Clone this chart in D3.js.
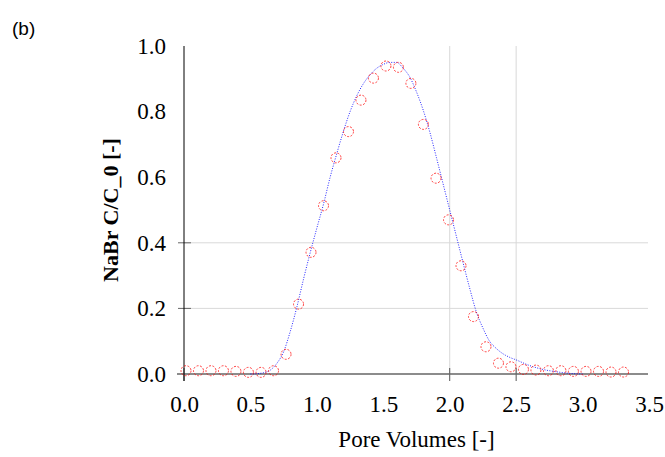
<!DOCTYPE html>
<html>
<head>
<meta charset="utf-8">
<script src="https://cdn.jsdelivr.net/npm/d3@7"></script>
<style>
  html, body { margin: 0; padding: 0; background: #fff; }
  svg { display: block; }
  .serif { font-family: "Liberation Serif", "Times New Roman", Times, "DejaVu Serif", serif; }
  .sans { font-family: "Liberation Sans", Arial, Helvetica, sans-serif; }
</style>
</head>
<body>
<svg id="chart" width="665" height="457"></svg>
<script>
// ---- data ----
const panelLabel = "(b)";
const xTitle = "Pore Volumes [-]";
const yTitle = "NaBr C/C_0 [-]";
const xTicks = [0.0, 0.5, 1.0, 1.5, 2.0, 2.5, 3.0, 3.5];
const yTicks = [0.0, 0.2, 0.4, 0.6, 0.8, 1.0];
const xGrid = [2.0, 2.5];
const yGrid = [0.2, 0.4];
const xMarks = [0.0, 2.0, 2.5];

// observed (circles)
const obsPV = [0.015, 0.109, 0.203, 0.297, 0.391, 0.485, 0.580, 0.674, 0.768, 0.862,
               0.956, 1.050, 1.144, 1.238, 1.332, 1.426, 1.520, 1.614, 1.708, 1.802,
               1.897, 1.991, 2.085, 2.179, 2.273, 2.367, 2.461, 2.555, 2.649, 2.743,
               2.837, 2.931, 3.026, 3.120, 3.214, 3.308];
const obsC  = [0.010, 0.010, 0.010, 0.010, 0.008, 0.005, 0.005, 0.010, 0.060, 0.213,
               0.371, 0.513, 0.659, 0.739, 0.835, 0.902, 0.939, 0.935, 0.886, 0.761,
               0.597, 0.470, 0.330, 0.175, 0.083, 0.033, 0.022, 0.014, 0.012, 0.010,
               0.010, 0.008, 0.008, 0.008, 0.006, 0.006];

// model (dotted line)
const modelPV = [0.50, 0.55, 0.60, 0.65, 0.70, 0.75, 0.80, 0.85, 0.90, 0.95,
                 1.00, 1.05, 1.10, 1.15, 1.20, 1.25, 1.30, 1.35, 1.40, 1.45,
                 1.50, 1.55, 1.60, 1.65, 1.70, 1.75, 1.80, 1.85, 1.90, 1.95,
                 2.00, 2.05, 2.10, 2.15, 2.20, 2.25, 2.30, 2.35, 2.40, 2.45,
                 2.50, 2.60, 2.70, 2.80, 2.90, 3.00];
const modelC  = [0.000, 0.001, 0.004, 0.012, 0.033, 0.068, 0.130, 0.205, 0.290, 0.370,
                 0.445, 0.518, 0.600, 0.672, 0.740, 0.800, 0.848, 0.885, 0.912, 0.932,
                 0.944, 0.950, 0.950, 0.932, 0.905, 0.860, 0.805, 0.738, 0.660, 0.580,
                 0.500, 0.420, 0.340, 0.262, 0.190, 0.140, 0.100, 0.078, 0.062, 0.051,
                 0.043, 0.026, 0.014, 0.007, 0.002, 0.000];

// ---- layout ----
const L = 184, R = 649, T = 46, B = 374;
const svg = d3.select("#chart");
const x = d3.scaleLinear().domain([0, 3.5]).range([L, R]);
const y = d3.scaleLinear().domain([0, 1.0]).range([B, T]);

// grid
svg.append("g").selectAll("line").data(yGrid).join("line")
  .attr("x1", L).attr("x2", R - 1).attr("y1", d => y(d)).attr("y2", d => y(d))
  .attr("stroke", "#d9d9d9").attr("stroke-width", 1);
svg.append("g").selectAll("line").data(xGrid).join("line")
  .attr("x1", d => x(d)).attr("x2", d => x(d)).attr("y1", T).attr("y2", B)
  .attr("stroke", "#d9d9d9").attr("stroke-width", 1);

// small tick marks
svg.append("g").selectAll("line").data(yGrid).join("line")
  .attr("x1", L - 6).attr("x2", L + 7).attr("y1", d => y(d)).attr("y2", d => y(d))
  .attr("stroke", "#666").attr("stroke-width", 1);
svg.append("g").selectAll("line").data(xMarks).join("line")
  .attr("x1", d => x(d)).attr("x2", d => x(d)).attr("y1", B - 6).attr("y2", B + 7)
  .attr("stroke", "#555").attr("stroke-width", 1);

// axis lines
svg.append("line").attr("x1", L - 7).attr("x2", R - 1).attr("y1", B).attr("y2", B)
  .attr("stroke", "#666").attr("stroke-width", 1.5);
svg.append("line").attr("x1", L).attr("x2", L).attr("y1", T).attr("y2", B + 7)
  .attr("stroke", "#000").attr("stroke-width", 1);

// axis labels via d3 axes
const xAxis = d3.axisBottom(x).tickValues(xTicks).tickFormat(d3.format(".1f"))
  .tickSizeInner(0).tickSizeOuter(0).tickPadding(22);
const gx = svg.append("g").attr("transform", `translate(0,${B})`).call(xAxis)
  .attr("font-family", null).attr("font-size", null).attr("class", "serif");
gx.select(".domain").remove();
gx.selectAll("text").style("font-size", "23px").attr("fill", "#000");

const yAxis = d3.axisLeft(y).tickValues(yTicks).tickFormat(d3.format(".1f"))
  .tickSizeInner(0).tickSizeOuter(0).tickPadding(18);
const gy = svg.append("g").attr("transform", `translate(${L},0)`).call(yAxis)
  .attr("font-family", null).attr("font-size", null).attr("class", "serif");
gy.select(".domain").remove();
gy.selectAll("text").style("font-size", "23px").attr("fill", "#000");

// model line
const modelData = modelPV.map((v, i) => [v, modelC[i]]);
svg.append("path").datum(modelData)
  .attr("fill", "none").attr("stroke", "#0000ff").attr("stroke-width", 1)
  .attr("stroke-dasharray", "1,1.5").attr("opacity", 0.85)
  .attr("d", d3.line().x(d => x(d[0])).y(d => y(d[1])).curve(d3.curveMonotoneX));

// observed circles
const obsData = obsPV.map((v, i) => [v, obsC[i]]);
svg.append("g").selectAll("circle").data(obsData).join("circle")
  .attr("cx", d => x(d[0])).attr("cy", d => y(d[1])).attr("r", 5)
  .attr("fill", "none").attr("stroke", "#ff0000").attr("stroke-width", 1)
  .attr("stroke-dasharray", "2,1.5").attr("opacity", 0.75);

// titles
svg.append("text").attr("class", "serif").attr("x", L + (R - L) / 2).attr("y", 447)
  .attr("text-anchor", "middle").style("font-size", "23px")
  .text(xTitle);
svg.append("text").attr("class", "serif")
  .attr("transform", `translate(118,${(T + B) / 2}) rotate(-90)`)
  .attr("text-anchor", "middle").style("font-size", "22px")
  .style("font-weight", "bold").text(yTitle);
svg.append("text").attr("class", "sans").attr("x", 12).attr("y", 35)
  .style("font-size", "19px")
  .text(panelLabel);
</script>
</body>
</html>
